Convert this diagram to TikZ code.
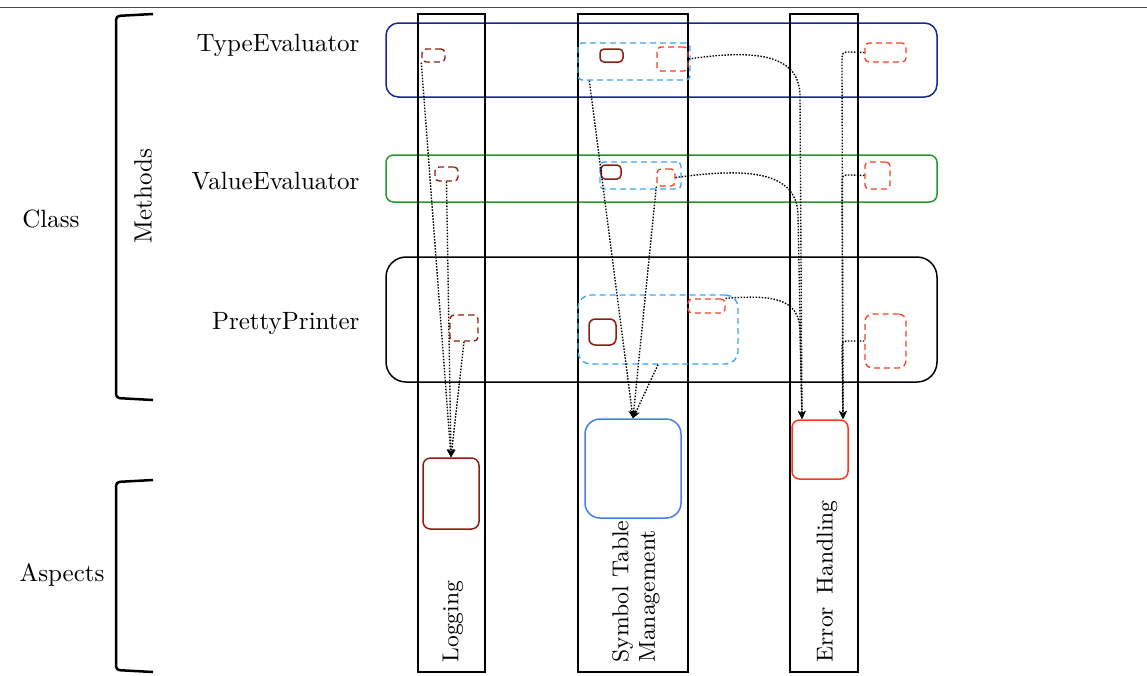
\documentclass[tikz,border=0pt]{standalone}
\usetikzlibrary{arrows.meta,fit,positioning}

\definecolor{navy}{RGB}{22,38,150}
\definecolor{rowgreen}{RGB}{40,150,40}
\definecolor{brick}{RGB}{140,30,15}
\definecolor{skyblue}{RGB}{60,165,240}
\definecolor{tomato}{RGB}{245,65,35}
\definecolor{aspblue}{RGB}{70,125,240}
\definecolor{asperr}{RGB}{255,55,25}

\tikzset{
  lbl/.style={font=\fontsize{10}{11.5}\selectfont, inner sep=0pt},
  collbl/.style={font=\fontsize{9.2}{10.6}\selectfont, inner sep=0pt, rotate=90, anchor=west},
  column/.style={draw=black, line width=0.5pt, inner sep=0pt},
  rowbox/.style={draw=#1, line width=0.6pt, inner sep=0pt},
  snip/.style={draw=#1, line width=0.55pt, dash pattern=on 2.4pt off 1.6pt,
               rounded corners=1.6pt, inner sep=0pt},
  solidsnip/.style={draw=brick, line width=0.6pt, rounded corners=1.6pt, inner sep=0pt},
  aspect/.style={draw=#1, line width=0.6pt, inner sep=0pt},
  link/.style={line width=0.55pt, dash pattern=on 0.6pt off 0.6pt,
               -{Stealth[length=3.2pt,width=3pt]}},
  bracket/.style={line width=1pt, rounded corners=1.5pt}
}

\begin{document}
\begin{tikzpicture}[x=0.4pt, y=-0.4pt]
  \useasboundingbox (0,0) rectangle (1147,675);
  \draw[black!70, line width=0.4pt] (0,7) -- (1147,7);

  % left side labels and brackets
  \node[lbl] (class) at (51,219) {Class};
  \node[lbl] (aspects) at (62,575) {Aspects};
  \node[lbl, rotate=90] (methods) at (143,196) {Methods};
  \draw[bracket] (153,14) -- (116,16) -- (116,398) -- (153,400);
  \draw[bracket] (153,480) -- (116,482) -- (116,670) -- (153,672);

  \node[lbl, anchor=east] (teName) at (360,45) {TypeEvaluator};
  \node[lbl, anchor=east] (veName) at (360,181) {ValueEvaluator};
  \node[lbl, anchor=east] (ppName) at (360,324) {PrettyPrinter};

  % rows
  \node[rowbox=navy, rounded corners=5pt, fit={(386,23) (937,97)}] (te) {};
  \node[rowbox=rowgreen, rounded corners=3pt, fit={(386,155) (937,202)}] (ve) {};
  \node[rowbox=black, rounded corners=8pt, fit={(386,257) (937,382)}] (pp) {};

  % aspect columns
  \node[column, fit={(418,14) (485,672)}] (logCol) {};
  \node[column, fit={(578,14) (688,672)}] (symCol) {};
  \node[column, fit={(790,14) (858,672)}] (errCol) {};

  \node[collbl] (logName) at (453,663) {Logging};
  \node[collbl, align=left] (symName) at (636,663) {Symbol Table\\Management};
  \node[collbl] (errName) at (827,663) {Error\hspace{0.55em}Handling};

  % aspect modules
  \node[aspect=brick, rounded corners=3pt, fit={(423,458) (479,529)}] (logAsp) {};
  \node[aspect=aspblue, rounded corners=6pt, fit={(585,419) (681,518)}] (symAsp) {};
  \node[aspect=asperr, rounded corners=3pt, fit={(792,420) (848,479)}] (errAsp) {};

  % TypeEvaluator fragments
  \node[snip=brick, fit={(422,49) (445,62)}] (teLog) {};
  \node[snip=skyblue, fit={(578,43) (690,80)}] (teSym) {};
  \node[solidsnip, fit={(600,49) (623,62)}] (teSymCode) {};
  \node[snip=tomato, fit={(657,47) (688,71)}] (teSymErr) {};
  \node[snip=tomato, fit={(865,43) (906,62)}] (teErr) {};

  % ValueEvaluator fragments
  \node[snip=brick, fit={(435,167) (458,181)}] (veLog) {};
  \node[snip=skyblue, fit={(600,162) (681,189)}] (veSym) {};
  \node[solidsnip, fit={(601,165) (621,179)}] (veSymCode) {};
  \node[snip=tomato, fit={(657,169) (675,186)}] (veSymErr) {};
  \node[snip=tomato, fit={(865,162) (890,189)}] (veErr) {};

  % PrettyPrinter fragments
  \node[snip=brick, fit={(450,315) (478,341)}] (ppLog) {};
  \node[snip=skyblue, rounded corners=5pt, fit={(578,295) (738,364)}] (ppSym) {};
  \node[solidsnip, rounded corners=2.5pt, fit={(589,319) (616,345)}] (ppSymCode) {};
  \node[snip=tomato, fit={(688,299) (725,313)}] (ppSymErr) {};
  \node[snip=tomato, rounded corners=3pt, fit={(865,314) (906,368)}] (ppErr) {};

  \coordinate (errInL) at (802,419);
  \coordinate (errInR) at (843,419);

  % weaving into the aspects
  \draw[link] (teLog.south west) -- (logAsp.north);
  \draw[link] (veLog.south) -- (logAsp.north);
  \draw[link] (ppLog.south) -- (logAsp.north);

  \draw[link] ([xshift=4.8pt]teSym.south west) -- (symAsp.north);
  \draw[link] (veSymErr.south west) -- (symAsp.north);
  \draw[link] (ppSym.south) -- (symAsp.north);

  \draw[link] (teSymErr.east) .. controls (750,50) and (799,52) .. (800,95) -- (errInL);
  \draw[link] (veSymErr.east) .. controls (745,168) and (797,170) .. (798,215) -- (errInL);
  \draw[link] (ppSymErr.north east) .. controls (770,295) and (799,297) .. (800,330) -- (errInL);

  \draw[link] (teErr.west) -- (850,52) .. controls (842,52) .. (842,64) -- (errInR);
  \draw[link] (veErr.west) -- (850,175) .. controls (842,175) .. (842,186) -- (errInR);
  \draw[link] (ppErr.west) -- (850,341) .. controls (842,341) .. (842,352) -- (errInR);
\end{tikzpicture}
\end{document}
